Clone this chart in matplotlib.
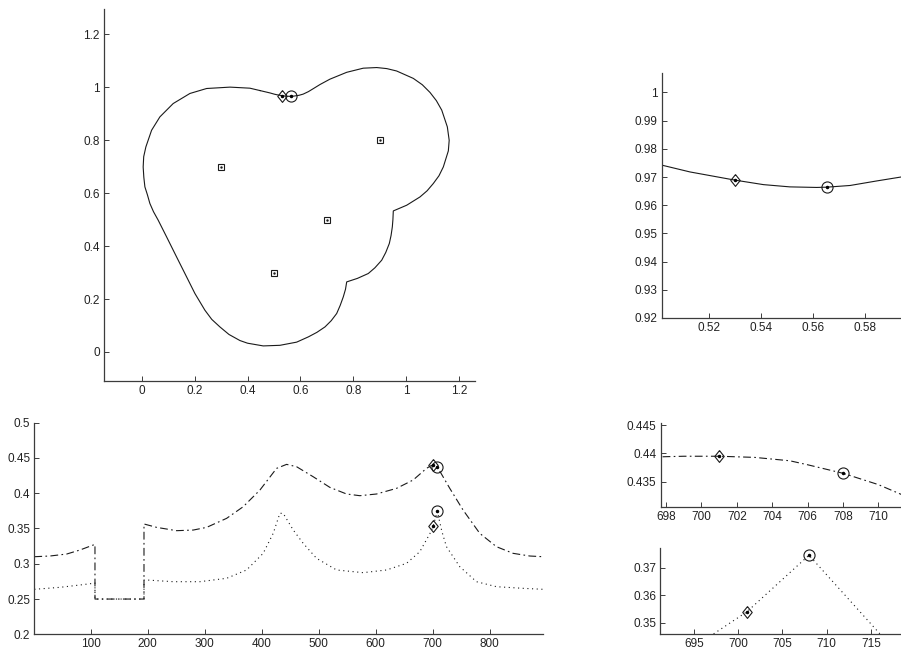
import matplotlib

matplotlib.use("Agg")
import matplotlib.pyplot as plt

DPI = 100
INK = "#1a1a1a"
AXIS = "#3c3c3c"

# top-left: closed boundary curve (x, y)
CURVE_X = [0.447, 0.485, 0.5019, 0.5127, 0.530, 0.541, 0.5512, 0.5615, 0.5654,
           0.5744, 0.5846, 0.594, 0.610, 0.630, 0.648, 0.674, 0.711, 0.7745,
           0.837, 0.888, 0.926, 0.963, 1.026, 1.060, 1.089, 1.113, 1.1334,
           1.1545, 1.1615, 1.1583, 1.1394, 1.123, 1.1016, 1.078, 1.0514,
           1.0011, 0.9505, 0.949, 0.9468, 0.942, 0.9354, 0.922, 0.9067, 0.881,
           0.856, 0.815, 0.7745, 0.770, 0.7616, 0.750, 0.7367, 0.716, 0.6925,
           0.662, 0.630, 0.5856, 0.5225, 0.4594, 0.400, 0.3714, 0.330, 0.2958,
           0.265, 0.2391, 0.2014, 0.170, 0.1322, 0.0944, 0.0627, 0.045,
           0.0314, 0.022, 0.0125, 0.0085, 0.006, 0.008, 0.0162, 0.0378,
           0.0691, 0.1194, 0.1825, 0.2456, 0.334, 0.409, 0.447]
CURVE_Y = [0.988, 0.979, 0.9742, 0.9718, 0.9689, 0.9673, 0.9665, 0.9663, 0.9664,
           0.967, 0.9686, 0.970, 0.9745, 0.984, 0.995, 1.011, 1.031, 1.057,
           1.0726, 1.075, 1.071, 1.062, 1.034, 1.010, 0.981, 0.950, 0.914,
           0.8507, 0.800, 0.760, 0.6994, 0.666, 0.6367, 0.609, 0.586,
           0.5546, 0.533, 0.500, 0.4726, 0.440, 0.4098, 0.376, 0.3467, 0.318,
           0.2964, 0.278, 0.2647, 0.237, 0.208, 0.176, 0.1452, 0.118, 0.0945,
           0.074, 0.057, 0.037, 0.025, 0.0227, 0.033, 0.043, 0.066, 0.0945,
           0.123, 0.1577, 0.2208, 0.2836, 0.359, 0.435, 0.498, 0.530,
           0.561, 0.594, 0.624, 0.660, 0.699, 0.738, 0.775, 0.838,
           0.8885, 0.939, 0.977, 0.9958, 1.001, 0.997, 0.988]
CENTERS_X = [0.3, 0.9, 0.7, 0.5]
CENTERS_Y = [0.7, 0.8, 0.5, 0.3]
DIAMOND_TOP = (0.530, 0.969)
CIRCLE_TOP = (0.5655, 0.9665)

# bottom: two profiles against sample index
DASH_X = [1, 28.5, 57.8, 81, 107.4, 107.4, 193.4, 193.4, 215.6, 250.7, 279.8,
          303.3, 338.4, 367.5, 396.8, 426, 443.6, 461.1, 490.2, 519.5, 548.8,
          572.1, 601.4, 636.5, 665.6, 689, 697.7, 699, 701, 703, 705, 706,
          708, 710, 711.5, 729.9, 753.2, 782.5, 811.8, 841, 870.2, 893.6]
DASH_Y = [0.310, 0.311, 0.3138, 0.3195, 0.3275, 0.250, 0.250, 0.3564, 0.3516,
          0.3469, 0.3478, 0.3516, 0.3644, 0.3809, 0.4045, 0.4352, 0.4409,
          0.4376, 0.4234, 0.4083, 0.3989, 0.3965, 0.3989, 0.4069, 0.4187,
          0.4352, 0.4394, 0.4395, 0.4395, 0.4393, 0.4387, 0.438, 0.4365,
          0.4345, 0.4325, 0.4069, 0.3762, 0.3431, 0.3242, 0.3148, 0.311, 0.310]
DOT_X = [1, 46.1, 81, 104.5, 107.4, 107.4, 193.4, 193.4, 198, 244.7, 291.5,
         338.4, 373.4, 402.5, 420.1, 431.8, 437.6, 455.2, 472.7, 496.2, 531.3,
         577.9, 619, 654, 677.3, 697.2, 701, 708, 716, 724.1, 747.4, 776.7,
         811.8, 858.4, 893.6]
DOT_Y = [0.2638, 0.2666, 0.2699, 0.2723, 0.2728, 0.250, 0.250, 0.277, 0.277,
         0.2746, 0.2746, 0.2794, 0.2912, 0.3148, 0.3431, 0.3715, 0.3715,
         0.3479, 0.329, 0.3077, 0.2912, 0.2874, 0.2912, 0.3006, 0.3171,
         0.3459, 0.354, 0.3745, 0.346, 0.3242, 0.2959, 0.2746, 0.2675,
         0.2652, 0.2638]
DASH_DIAMOND = (701, 0.4395)
DASH_CIRCLE = (708, 0.4365)
DOT_DIAMOND = (701, 0.354)
DOT_CIRCLE = (708, 0.3745)

TL_TICKS = [0, 0.2, 0.4, 0.6, 0.8, 1, 1.2]
TL_LABELS = ["0", "0.2", "0.4", "0.6", "0.8", "1", "1.2"]
TR_XTICKS = [0.52, 0.54, 0.56, 0.58]
TR_YTICKS = [0.92, 0.93, 0.94, 0.95, 0.96, 0.97, 0.98, 0.99, 1.0]
TR_YLABELS = ["0.92", "0.93", "0.94", "0.95", "0.96", "0.97", "0.98", "0.99", "1"]
BL_XTICKS = [100, 200, 300, 400, 500, 600, 700, 800]
BL_YTICKS = [0.2, 0.25, 0.3, 0.35, 0.4, 0.45, 0.5]
BL_YLABELS = ["0.2", "0.25", "0.3", "0.35", "0.4", "0.45", "0.5"]
BR1_XTICKS = [698, 700, 702, 704, 706, 708, 710]
BR1_YTICKS = [0.435, 0.44, 0.445]
BR1_YLABELS = ["0.435", "0.44", "0.445"]
BR2_XTICKS = [695, 700, 705, 710, 715]
BR2_YTICKS = [0.35, 0.36, 0.37]
BR2_YLABELS = ["0.35", "0.36", "0.37"]

DASHDOT = (0, (7, 3, 1.5, 3))
DOTTED = (0, (1, 3.2))
DIAMOND = [(0, 1), (0.8, 0), (0, -1), (-0.8, 0), (0, 1)]

plt.rcParams["font.family"] = ["Liberation Sans", "DejaVu Sans"]
plt.rcParams["font.size"] = 8.5


def style_axes(ax):
    for spine in ("top", "right"):
        ax.spines[spine].set_visible(False)
    for spine in ("left", "bottom"):
        ax.spines[spine].set_color(AXIS)
        ax.spines[spine].set_linewidth(0.9)
    ax.tick_params(direction="in", length=3.5, width=0.7, color=AXIS,
                   labelcolor="#222222", pad=3)


def marks(ax, diamond, circle):
    ax.plot(*diamond, marker=DIAMOND, ms=8.5, mfc="none", mec=INK, mew=0.8, ls="none")
    ax.plot(*circle, marker="o", ms=8, mfc="none", mec=INK, mew=0.8, ls="none")
    for p in (diamond, circle):
        ax.plot(*p, marker=".", ms=3, color="black", ls="none")


fig = plt.figure(figsize=(901 / DPI, 654 / DPI), dpi=DPI)

# top-left: boundary with centres
ax = fig.add_axes([0.1154, 0.4174, 0.4118, 0.5683])
ax.plot(CURVE_X, CURVE_Y, color=INK, lw=0.8)
ax.plot(CENTERS_X, CENTERS_Y, marker="s", ms=4.5, mfc="none", mec=INK, mew=0.8, ls="none")
ax.plot(CENTERS_X, CENTERS_Y, marker=".", ms=1.5, color=INK, ls="none")
marks(ax, DIAMOND_TOP, CIRCLE_TOP)
ax.set_xlim(-0.142, 1.259)
ax.set_ylim(-0.11, 1.295)
ax.set_xticks(TL_TICKS, TL_LABELS)
ax.set_yticks(TL_TICKS, TL_LABELS)
style_axes(ax)

# top-right: zoom on the top arc
ax = fig.add_axes([0.7347, 0.5138, 0.2653, 0.3746])
ax.plot(CURVE_X, CURVE_Y, color=INK, lw=0.8)
marks(ax, DIAMOND_TOP, CIRCLE_TOP)
ax.set_xlim(0.5019, 0.594)
ax.set_ylim(0.92, 1.0069)
ax.set_xticks(TR_XTICKS, ["0.52", "0.54", "0.56", "0.58"])
ax.set_yticks(TR_YTICKS, TR_YLABELS)
style_axes(ax)

# bottom-left: profiles
ax = fig.add_axes([0.0381, 0.0301, 0.5649, 0.3236])
ax.plot(DASH_X, DASH_Y, color=INK, lw=0.8, ls=DASHDOT)
ax.plot(DOT_X, DOT_Y, color=INK, lw=0.8, ls=DOTTED)
marks(ax, DASH_DIAMOND, DASH_CIRCLE)
marks(ax, DOT_DIAMOND, DOT_CIRCLE)
ax.set_xlim(1, 894)
ax.set_ylim(0.2, 0.5)
ax.set_xticks(BL_XTICKS, [str(t) for t in BL_XTICKS])
ax.set_yticks(BL_YTICKS, BL_YLABELS)
style_axes(ax)

# bottom-right upper: zoom on dash-dot peak
ax = fig.add_axes([0.7333, 0.2243, 0.2667, 0.1284])
ax.plot(DASH_X, DASH_Y, color=INK, lw=0.8, ls=DASHDOT)
marks(ax, DASH_DIAMOND, DASH_CIRCLE)
ax.set_xlim(697.7, 711.28)
ax.set_ylim(0.4305, 0.4453)
ax.set_xticks(BR1_XTICKS, [str(t) for t in BR1_XTICKS])
ax.set_yticks(BR1_YTICKS, BR1_YLABELS)
style_axes(ax)

# bottom-right lower: zoom on dotted peak
ax = fig.add_axes([0.7329, 0.0306, 0.2671, 0.1310])
ax.plot(DOT_X, DOT_Y, color=INK, lw=0.8, ls=DOTTED)
marks(ax, DOT_DIAMOND, DOT_CIRCLE)
ax.set_xlim(691.2, 718.4)
ax.set_ylim(0.3459, 0.377)
ax.set_xticks(BR2_XTICKS, [str(t) for t in BR2_XTICKS])
ax.set_yticks(BR2_YTICKS, BR2_YLABELS)
style_axes(ax)

fig.savefig("out.png", dpi=DPI, facecolor="white")
